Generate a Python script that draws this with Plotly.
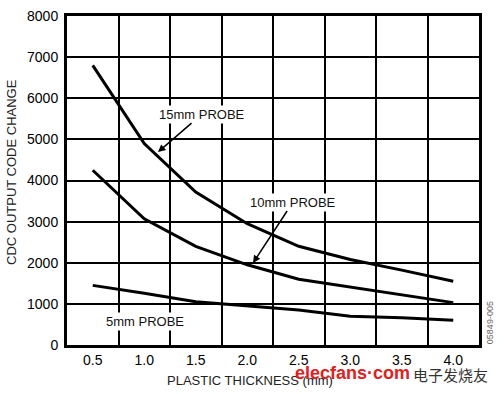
import plotly.graph_objects as go

thickness = [0.5, 1.0, 1.5, 2.0, 2.5, 3.0, 3.5, 4.0]
probe_15mm = [6800, 4900, 3720, 2950, 2400, 2080, 1820, 1550]
probe_10mm = [4250, 3070, 2400, 1950, 1600, 1410, 1230, 1030]
probe_5mm = [1450, 1260, 1050, 950, 850, 700, 660, 600]

x_tick_labels = ["0.5", "1.0", "1.5", "2.0", "2.5", "3.0", "3.5", "4.0"]
x_grid = [0.75, 1.25, 1.75, 2.25, 2.75, 3.25, 3.75]
y_ticks = [0, 1000, 2000, 3000, 4000, 5000, 6000, 7000, 8000]

fig = go.Figure()
for ys in (probe_15mm, probe_10mm, probe_5mm):
    fig.add_trace(go.Scatter(x=thickness, y=ys, mode="lines",
                             line=dict(color="black", width=3),
                             showlegend=False, hoverinfo="skip"))

FAM = "Liberation Sans, Arial"
font_tick = dict(family=FAM, size=14, color="#000")
font_lbl = dict(family=FAM, size=13, color="#111")
font_title = dict(family=FAM, size=13, color="#222")

fig.update_layout(
    width=504, height=394,
    margin=dict(l=67, r=25, t=16, b=49),
    paper_bgcolor="white", plot_bgcolor="white",
    xaxis=dict(range=[0.25, 4.25], tickvals=thickness, ticktext=x_tick_labels,
               showgrid=False, zeroline=False, ticks="", automargin=False,
               showline=True, linecolor="black", linewidth=3, mirror=True,
               tickfont=font_tick, ticklabelstandoff=0,
               minor=dict(tickvals=x_grid, showgrid=True, gridcolor="black",
                          gridwidth=1.5, ticks="")),
    yaxis=dict(range=[0, 8000], tickvals=y_ticks, showgrid=True, gridcolor="black",
               gridwidth=1.5, zeroline=False, ticks="", automargin=False,
               showline=True, linecolor="black", linewidth=3, mirror=True,
               tickfont=font_tick, ticklabelstandoff=3),
)

# axis titles
fig.add_annotation(xref="paper", yref="paper", x=(250 - 67) / 412, y=(345 - 381) / 329,
                   text="PLASTIC THICKNESS (mm)", showarrow=False, font=font_title,
                   xanchor="center", yanchor="middle")
fig.add_annotation(xref="paper", yref="paper", x=(12 - 67) / 412, y=(345 - 172) / 329,
                   text="CDC OUTPUT CODE CHANGE", showarrow=False, font=font_title,
                   textangle=-90, xanchor="center", yanchor="middle")

fig.add_annotation(x=1.133, y=4690, text="15mm PROBE", showarrow=True, arrowhead=2,
                   arrowsize=1, arrowwidth=1.5, arrowcolor="black", ax=44, ay=-38,
                   font=font_lbl, bgcolor="white", standoff=0)
fig.add_annotation(x=2.056, y=1994, text="10mm PROBE", showarrow=True, arrowhead=2,
                   arrowsize=1, arrowwidth=1.5, arrowcolor="black", ax=40, ay=-61,
                   font=font_lbl, bgcolor="white", standoff=0)
fig.add_annotation(x=1.007, y=583, text="5mm PROBE", showarrow=False,
                   font=font_lbl, bgcolor="white")
fig.add_annotation(xref="paper", yref="paper", x=(490 - 67) / 412, y=-0.005, text="05849-005",
                   textangle=-90, showarrow=False, xanchor="center", yanchor="bottom",
                   font=dict(family=FAM, size=9, color="#666"))
# watermark
fig.add_annotation(xref="paper", yref="paper", x=(352 - 67) / 412, y=(345 - 373) / 329,
                   text="<b>elecfans·com</b>",
                   showarrow=False, xanchor="center", yanchor="middle",
                   font=dict(family=FAM, size=18, color="#e02020"))
fig.add_annotation(xref="paper", yref="paper", x=(450 - 67) / 412, y=(345 - 374) / 329,
                   text="电子发烧友",
                   showarrow=False, xanchor="center", yanchor="middle",
                   font=dict(family="Noto Sans CJK SC", size=15, color="#333"))

fig.write_html("out.html", post_script="document.body.style.margin='0';",
               config={"displayModeBar": False})
